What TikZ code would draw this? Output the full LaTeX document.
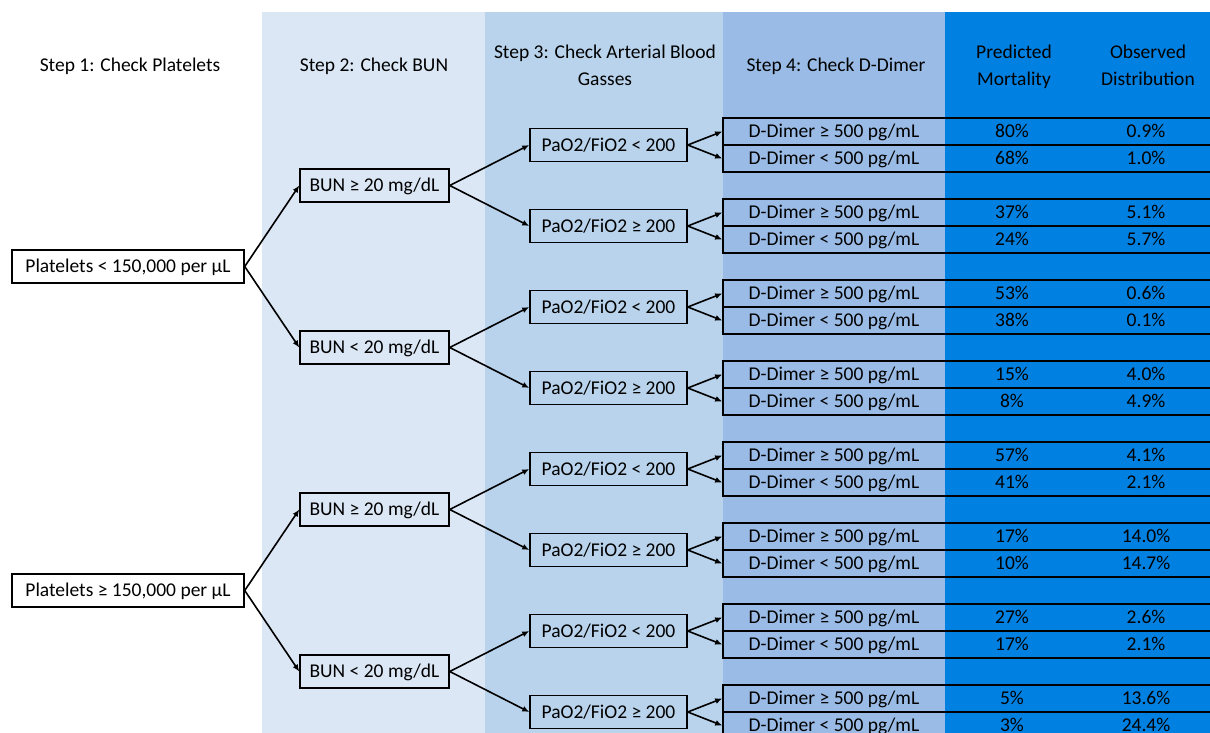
\documentclass[tikz,border=0pt]{standalone}
\usepackage{fontspec}
\setmainfont{Carlito}
\usetikzlibrary{arrows.meta}
\definecolor{colA}{RGB}{219,231,245}
\definecolor{colB}{RGB}{184,211,235}
\definecolor{colC}{RGB}{153,187,229}
\definecolor{colD}{RGB}{0,128,224}
\tikzset{
  lbl/.style={font=\fontsize{19.5}{27}\selectfont, inner sep=0pt, text height=14pt, text depth=1.4pt},
  hdr/.style={font=\fontsize{19.5}{27}\selectfont, inner sep=0pt, align=center},
  bx/.style={lbl, draw, line width=1.5pt, minimum height=33pt},
  rowbox/.style={draw, line width=1.5pt, minimum width=490pt, minimum height=27pt, inner sep=0pt},
  arr/.style={line width=1.6pt, -{Latex[length=7pt,width=6pt]}}
}
\begin{document}
\begin{tikzpicture}[x=1pt,y=-1pt]
\clip (0,0) rectangle (1210,733);
\fill[white] (0,0) rectangle (1210,733);
\fill[colA] (262,12) rectangle (485,733);
\fill[colB] (485,12) rectangle (723,733);
\fill[colC] (723,12) rectangle (945,733);
\fill[colD] (945,12) rectangle (1210,733);
% headers
\node[lbl] (h1) at (130,65) {Step 1: Check Platelets};
\node[lbl] (h2) at (374,65) {Step 2: Check BUN};
\node[hdr] (h3) at (605,66.4) {\strut Step 3: Check Arterial Blood\\\strut Gasses};
\node[lbl] (h4) at (836,65) {Step 4: Check D-Dimer};
\node[hdr] (h5) at (1014,66.4) {\strut Predicted\\\strut Mortality};
\node[hdr] (h6) at (1148,66.4) {\strut Observed\\\strut Distribution};
% D-Dimer rows and PaO2 boxes
\foreach \i/\op/\pa/\oa/\pb/\ob in {
  0/{<}/80\%/0.9\%/68\%/1.0\%,
  1/{≥}/37\%/5.1\%/24\%/5.7\%,
  2/{<}/53\%/0.6\%/38\%/0.1\%,
  3/{≥}/15\%/4.0\%/8\%/4.9\%,
  4/{<}/57\%/4.1\%/41\%/2.1\%,
  5/{≥}/17\%/14.0\%/10\%/14.7\%,
  6/{<}/27\%/2.6\%/17\%/2.1\%,
  7/{≥}/5\%/13.6\%/3\%/24.4\%}{
  \pgfmathsetmacro\T{118+81*\i}
  \node[rowbox] (ra\i) at (968,\T+13.5) {};
  \node[rowbox] (rb\i) at (968,\T+40.5) {};
  \node[lbl] (da\i) at (834,\T+13.5) {D-Dimer ≥ 500 pg/mL};
  \node[lbl] (db\i) at (834,\T+40.5) {D-Dimer < 500 pg/mL};
  \node[lbl] (ma\i) at (1012,\T+13.5) {\pa};
  \node[lbl] (mb\i) at (1012,\T+40.5) {\pb};
  \node[lbl] (oa\i) at (1146,\T+13.5) {\oa};
  \node[lbl] (ob\i) at (1146,\T+40.5) {\ob};
  \node[bx, minimum width=157pt] (p\i) at (608.5,\T+27) {PaO2/FiO2 \op\ 200};
  \draw[arr] (p\i.east) -- (ra\i.west);
  \draw[arr] (p\i.east) -- (rb\i.west);
}
% BUN boxes
\foreach \j/\op in {0/{≥},1/{<},2/{≥},3/{<}}{
  \pgfmathsetmacro\Y{185.5+162*\j}
  \pgfmathtruncatemacro\ka{2*\j}
  \pgfmathtruncatemacro\kb{2*\j+1}
  \node[bx, minimum width=149pt] (b\j) at (374.5,\Y) {BUN \op\ 20 mg/dL};
  \draw[arr] (b\j.east) -- (p\ka.west);
  \draw[arr] (b\j.east) -- (p\kb.west);
}
% Platelets boxes
\node[bx, fill=white, minimum width=232pt] (pl0) at (128,266.5) {Platelets < 150,000 per µL};
\node[bx, fill=white, minimum width=232pt] (pl1) at (128,590.5) {Platelets ≥ 150,000 per µL};
\draw[arr] (pl0.east) -- (b0.west);
\draw[arr] (pl0.east) -- (b1.west);
\draw[arr] (pl1.east) -- (b2.west);
\draw[arr] (pl1.east) -- (b3.west);
\end{tikzpicture}
\end{document}
